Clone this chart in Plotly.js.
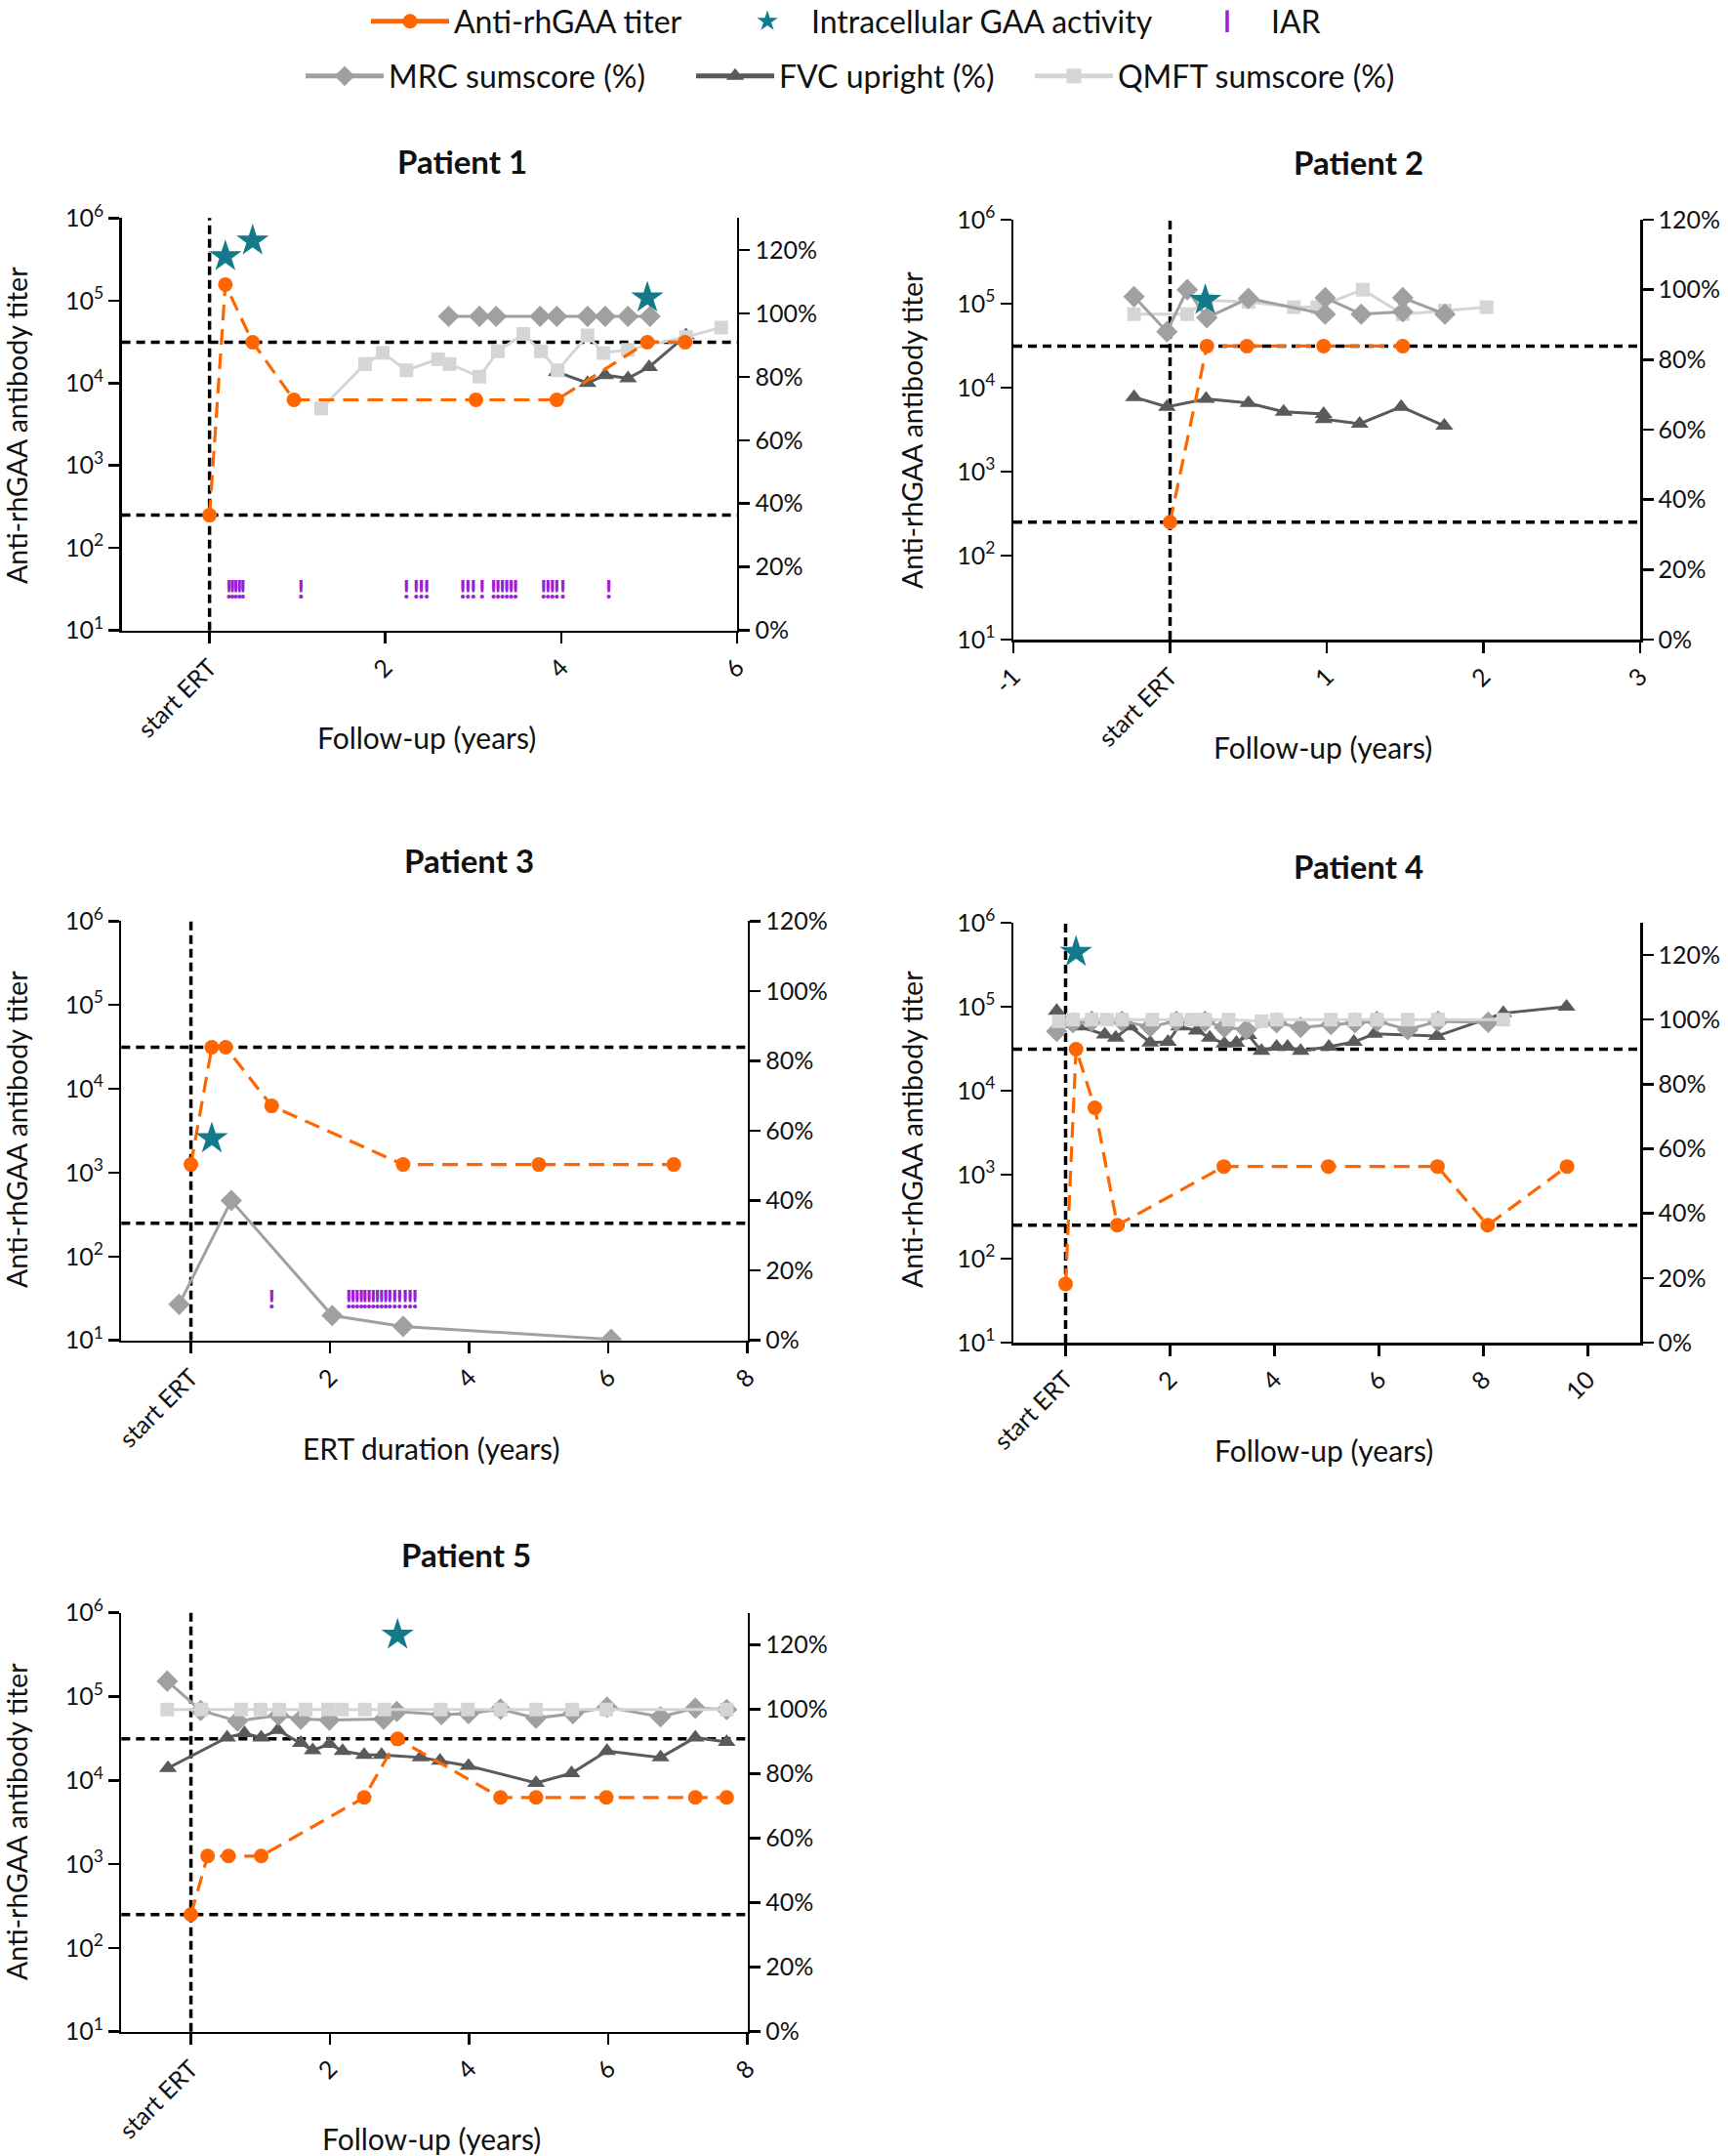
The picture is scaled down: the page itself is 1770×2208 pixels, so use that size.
<!DOCTYPE html>
<html><head><meta charset="utf-8">
<script src="https://cdn.plot.ly/plotly-3.0.1.min.js"></script>
<style>html,body{margin:0;padding:0;background:#fff}#chart{width:1770px;height:2208px}</style>
</head><body><div id="chart"></div>
<script>
// ================= DATA =================
const cutoffs = [250, 31250];
const ertStart = 0;
const logTickVals = [10, 100, 1000, 10000, 100000, 1000000];
const logTickText = ['10<sup>1</sup>', '10<sup>2</sup>', '10<sup>3</sup>', '10<sup>4</sup>', '10<sup>5</sup>', '10<sup>6</sup>'];
const pctTickVals = [0, 20, 40, 60, 80, 100, 120];
const pctTickText = ['0%', '20%', '40%', '60%', '80%', '100%', '120%'];

const patientTitles = ['Patient 1', 'Patient 2', 'Patient 3', 'Patient 4', 'Patient 5'];
const xAxisTitles = ['Follow-up (years)', 'Follow-up (years)', 'ERT duration (years)', 'Follow-up (years)', 'Follow-up (years)'];
const yAxisTitle = 'Anti-rhGAA antibody titer';
const legendNames = ['Anti-rhGAA titer', 'Intracellular GAA activity', 'IAR', 'MRC sumscore (%)', 'FVC upright (%)', 'QMFT sumscore (%)'];

// x tick labels
const p1XTicks = [0, 2, 4, 6];        const p1XLabels = ['start ERT', '2', '4', '6'];
const p2XTicks = [-1, 0, 1, 2, 3];    const p2XLabels = ['-1', 'start ERT', '1', '2', '3'];
const p3XTicks = [0, 2, 4, 6, 8];     const p3XLabels = ['start ERT', '2', '4', '6', '8'];
const p4XTicks = [0, 2, 4, 6, 8, 10]; const p4XLabels = ['start ERT', '2', '4', '6', '8', '10'];
const p5XTicks = [0, 2, 4, 6, 8];     const p5XLabels = ['start ERT', '2', '4', '6', '8'];

// Patient 1
const p1TiterX = [0, 0.18, 0.49, 0.96, 3.03, 3.95, 4.98, 5.41];
const p1TiterY = [250, 156250, 31250, 6250, 6250, 6250, 31250, 31250];
const p1GaaX = [0.18, 0.49, 4.98];
const p1GaaY = [342000, 530000, 108000];
const p1MrcX = [2.72, 3.07, 3.26, 3.76, 3.95, 4.30, 4.50, 4.76, 5.01];
const p1MrcY = [99, 99, 99, 99, 99, 99, 99, 99, 99];
const p1FvcX = [3.95, 4.30, 4.50, 4.76, 5.00, 5.42];
const p1FvcY = [81.5, 78, 80.5, 79.5, 83, 93];
const p1QmftX = [1.27, 1.77, 1.97, 2.24, 2.60, 2.73, 3.07, 3.28, 3.57, 3.77, 3.96, 4.30, 4.48, 4.76, 5.42, 5.82];
const p1QmftY = [70, 84, 87.5, 82, 85.5, 84, 80, 88, 93.5, 88, 82, 93, 87.5, 88.5, 92.5, 95.5];
const p1IarX = [0.22, 0.26, 0.30, 0.34, 0.38, 1.04, 2.24, 2.35, 2.41, 2.47, 2.88, 2.94, 3.00, 3.10, 3.23, 3.28, 3.33, 3.38, 3.43, 3.48, 3.80, 3.85, 3.90, 3.95, 4.02, 4.54];
const p1IarLevel = 12;

// Patient 2
const p2TiterX = [0, 0.235, 0.49, 0.98, 1.485];
const p2TiterY = [250, 31250, 31250, 31250, 31250];
const p2GaaX = [0.225];
const p2GaaY = [110000];
const p2MrcX = [-0.23, -0.02, 0.11, 0.235, 0.5, 0.99, 0.99, 1.22, 1.485, 1.485, 1.754];
const p2MrcY = [98, 88, 100, 92, 97.5, 93, 97.7, 93, 93.7, 97.7, 93];
const p2FvcX = [-0.23, -0.02, 0.23, 0.5, 0.725, 0.98, 0.98, 1.21, 1.475, 1.75];
const p2FvcY = [69.3, 66.5, 68.8, 67.6, 65.1, 64.5, 63, 61.7, 66.5, 61.1];
const p2QmftX = [-0.23, 0.11, 0.235, 0.5, 0.79, 0.94, 1.23, 1.485, 1.754, 2.02];
const p2QmftY = [93, 93, 97, 96.5, 95, 95, 100, 93, 94, 95];

// Patient 3
const p3TiterX = [0, 0.30, 0.50, 1.16, 3.05, 5.0, 6.94];
const p3TiterY = [1250, 31250, 31250, 6250, 1250, 1250, 1250];
const p3GaaX = [0.30];
const p3GaaY = [2550];
const p3MrcX = [-0.17, 0.58, 2.03, 3.05, 6.04];
const p3MrcY = [10.3, 40, 7.1, 4.0, 0.3];
const p3IarX = [1.16, 2.27, 2.33, 2.39, 2.45, 2.50, 2.56, 2.62, 2.68, 2.74, 2.80, 2.86, 2.93, 3.00, 3.08, 3.15, 3.22];
const p3IarLevel = 11;

// Patient 4
const p4TiterX = [0, 0.2, 0.56, 0.99, 3.03, 5.03, 7.12, 8.08, 9.6];
const p4TiterY = [50, 31250, 6250, 250, 1250, 1250, 1250, 250, 1250];
const p4GaaX = [0.2];
const p4GaaY = [447000];
const p4MrcX = [-0.17, 0.14, 0.5, 1.08, 1.62, 2.12, 2.67, 3.04, 3.46, 4.04, 4.50, 5.08, 5.54, 5.96, 6.55, 7.13, 8.09];
const p4MrcY = [96.4, 99, 99.5, 99.5, 97.8, 99.5, 99.5, 97.6, 96.9, 99, 97.6, 98.5, 99, 99.5, 96.9, 99.5, 99.2];
const p4FvcX = [-0.17, 0.25, 0.75, 0.96, 1.23, 1.62, 1.96, 2.17, 2.51, 2.76, 3.04, 3.27, 3.50, 3.75, 4.04, 4.25, 4.50, 5.04, 5.52, 5.91, 7.11, 8.38, 9.59];
const p4FvcY = [102.7, 97.9, 95.4, 94.4, 97.9, 92.9, 93.1, 97.9, 96.6, 94.4, 92.6, 92.8, 95.2, 90.3, 91.6, 91.6, 90.3, 91.6, 93.1, 95.6, 94.9, 102, 104];
const p4QmftX = [-0.13, 0.14, 0.50, 0.79, 1.08, 1.66, 2.12, 2.41, 2.67, 3.12, 3.75, 4.04, 5.08, 5.54, 5.96, 6.55, 7.13, 8.38];
const p4QmftY = [99.5, 100, 100, 100, 100, 100, 100, 100, 100, 100, 99.5, 100, 100, 100, 100, 100, 100, 100];

// Patient 5
const p5TiterX = [0, 0.24, 0.54, 1.01, 2.49, 2.97, 4.45, 4.96, 5.97, 7.25, 7.70];
const p5TiterY = [250, 1250, 1250, 1250, 6250, 31250, 6250, 6250, 6250, 6250, 6250];
const p5GaaX = [2.97];
const p5GaaY = [545000];
const p5MrcX = [-0.34, 0.14, 0.67, 1.26, 1.58, 1.99, 2.77, 2.96, 3.60, 3.99, 4.45, 4.96, 5.49, 5.98, 6.75, 7.25, 7.70];
const p5MrcY = [108.8, 99.7, 96.4, 98.2, 97.0, 96.7, 97.0, 99.4, 98.4, 98.7, 100.1, 97.3, 98.7, 100.7, 97.7, 100.4, 100];
const p5FvcX = [-0.33, 0.52, 0.77, 1.01, 1.25, 1.58, 1.75, 1.99, 2.18, 2.49, 2.74, 3.30, 3.58, 3.99, 4.96, 5.47, 5.98, 6.75, 7.25, 7.70];
const p5FvcY = [81.8, 91.3, 92.6, 91.3, 93.6, 89.6, 87.3, 89.3, 87.1, 85.9, 85.9, 85.1, 84.1, 82.5, 77.2, 80.2, 87.1, 85.1, 91.3, 89.9];
const p5QmftX = [-0.34, 0.15, 0.72, 1.0, 1.27, 1.65, 1.97, 2.17, 2.5, 2.78, 3.59, 3.98, 4.45, 4.96, 5.48, 5.97, 7.70];
const p5QmftY = [100, 100, 100, 100, 100, 100, 100, 100, 100, 100, 100, 100, 100, 100, 100, 100, 100];

// ================= STYLE / LAYOUT =================
const W = 1770, H = 2208;
const FONT = 'Lato, "Open Sans", "DejaVu Sans", sans-serif';
const TXT = '#111111';
const COL = {titer: '#ff6600', gaa: '#137a8c', iar: '#9a1ed6', mrc: '#a0a0a0', fvc: '#5a5a5a', qmft: '#d5d5d5'};

const panels = [
  {titerX: p1TiterX, titerY: p1TiterY, gaaX: p1GaaX, gaaY: p1GaaY, mrcX: p1MrcX, mrcY: p1MrcY, fvcX: p1FvcX, fvcY: p1FvcY, qmftX: p1QmftX, qmftY: p1QmftY, iarX: p1IarX, iarLevel: p1IarLevel, xt: p1XTicks, xl: p1XLabels,
   g: {x0: 124.6, x1: 754.9, y0: 223.3, y1: 645.7, xr: [-1, 6], pr: [0, 130], title: [473, 165], xtitle: [437, 755], ytitle: [17, 436]}},
  {titerX: p2TiterX, titerY: p2TiterY, gaaX: p2GaaX, gaaY: p2GaaY, mrcX: p2MrcX, mrcY: p2MrcY, fvcX: p2FvcX, fvcY: p2FvcY, qmftX: p2QmftX, qmftY: p2QmftY, xt: p2XTicks, xl: p2XLabels, mrcOnTop: true,
   g: {x0: 1038, x1: 1680, y0: 225, y1: 655, xr: [-1, 3], pr: [0, 120], title: [1391, 166], xtitle: [1355, 765], ytitle: [934, 441]}},
  {titerX: p3TiterX, titerY: p3TiterY, gaaX: p3GaaX, gaaY: p3GaaY, mrcX: p3MrcX, mrcY: p3MrcY, iarX: p3IarX, iarLevel: p3IarLevel, xt: p3XTicks, xl: p3XLabels,
   g: {x0: 124.3, x1: 765.7, y0: 943.3, y1: 1372.7, xr: [-1, 8], pr: [0, 120], title: [480, 881], xtitle: [441, 1483], ytitle: [17, 1157]}},
  {titerX: p4TiterX, titerY: p4TiterY, gaaX: p4GaaX, gaaY: p4GaaY, mrcX: p4MrcX, mrcY: p4MrcY, fvcX: p4FvcX, fvcY: p4FvcY, qmftX: p4QmftX, qmftY: p4QmftY, xt: p4XTicks, xl: p4XLabels,
   g: {x0: 1038, x1: 1680, y0: 945, y1: 1375, xr: [-1, 11], pr: [0, 130], title: [1391, 887], xtitle: [1356, 1485], ytitle: [934, 1157]}},
  {titerX: p5TiterX, titerY: p5TiterY, gaaX: p5GaaX, gaaY: p5GaaY, mrcX: p5MrcX, mrcY: p5MrcY, fvcX: p5FvcX, fvcY: p5FvcY, qmftX: p5QmftX, qmftY: p5QmftY, xt: p5XTicks, xl: p5XLabels,
   g: {x0: 124.3, x1: 765.7, y0: 1651.7, y1: 2080.7, xr: [-1, 8], pr: [0, 130], title: [477, 1592], xtitle: [442, 2190], ytitle: [17, 1866]}}
];

const px = v => v / W;
const py = v => 1 - v / H;

const traces = [];
const layout = {
  width: W, height: H,
  margin: {l: 0, r: 0, t: 0, b: 0, pad: 0, autoexpand: false},
  paper_bgcolor: '#fff', plot_bgcolor: 'rgba(0,0,0,0)',
  font: {family: FONT, color: TXT, size: 25},
  showlegend: true,
  shapes: [], annotations: []
};

const axisCommon = {
  showline: true, linecolor: '#000', linewidth: 2.5, mirror: false,
  ticks: 'outside', ticklen: 11, tickwidth: 2.5, tickcolor: '#000',
  showgrid: false, zeroline: false, fixedrange: true, automargin: false,
  tickfont: {family: FONT, size: 25, color: TXT}
};

panels.forEach((p, i) => {
  const k = i + 1;
  const xa = 'x' + (k > 1 ? k : '');
  const pn = 2 * k - 1, ln = 2 * k;
  const pa = 'y' + (pn > 1 ? pn : '');
  const la = 'y' + ln;
  const g = p.g;

  layout['xaxis' + (k > 1 ? k : '')] = Object.assign({}, axisCommon, {
    domain: [px(g.x0), px(g.x1)], range: g.xr, anchor: pa,
    tickmode: 'array', tickvals: p.xt, ticktext: p.xl, tickangle: -45
  });
  layout['yaxis' + (pn > 1 ? pn : '')] = Object.assign({}, axisCommon, {
    domain: [py(g.y1), py(g.y0)], range: g.pr, anchor: xa, side: 'right',
    tickmode: 'array', tickvals: pctTickVals.filter(v => v <= g.pr[1]), ticktext: pctTickText.filter((t, j) => pctTickVals[j] <= g.pr[1])
  });
  layout['yaxis' + ln] = Object.assign({}, axisCommon, {
    overlaying: pa, anchor: xa, side: 'left', type: 'log', range: [1, 6],
    tickmode: 'array', tickvals: logTickVals, ticktext: logTickText
  });

  // cutoff lines and start-ERT line
  cutoffs.forEach(c => layout.shapes.push({
    type: 'line', xref: xa + ' domain', yref: la, x0: 0, x1: 1, y0: c, y1: c,
    line: {color: '#000', width: 3.5, dash: '9px,6px'}, layer: 'below'
  }));
  layout.shapes.push({
    type: 'line', xref: xa, yref: la + ' domain', x0: ertStart, x1: ertStart, y0: 0, y1: 1,
    line: {color: '#000', width: 3.5, dash: '9px,5px'}, layer: 'below'
  });

  const pctTraces = [];
  if (p.fvcX) pctTraces.push({x: p.fvcX, y: p.fvcY, mode: 'lines+markers', line: {color: COL.fvc, width: 3}, marker: {symbol: 'triangle-up', size: 16, color: COL.fvc}, name: 'fvc'});
  if (p.qmftX) pctTraces.push({x: p.qmftX, y: p.qmftY, mode: 'lines+markers', line: {color: COL.qmft, width: 3}, marker: {symbol: 'square', size: 14, color: COL.qmft}, name: 'qmft'});
  if (p.mrcX) {
    const mt = {x: p.mrcX, y: p.mrcY, mode: 'lines+markers', line: {color: COL.mrc, width: 3}, marker: {symbol: 'diamond', size: 17, color: COL.mrc}, name: 'mrc'};
    if (p.mrcOnTop) pctTraces.push(mt); else pctTraces.splice(1, 0, mt);
  }
  if (p.iarX) pctTraces.push({x: p.iarX, y: p.iarX.map(() => p.iarLevel), mode: 'text', text: p.iarX.map(() => '!'),
    textfont: {family: FONT, size: 27, weight: 700, color: COL.iar}, textposition: 'middle center', name: 'iar'});
  pctTraces.forEach(t => { t.xaxis = xa; t.yaxis = pa; t.showlegend = false; t.hoverinfo = 'skip'; traces.push(t); });

  traces.push({x: p.titerX, y: p.titerY, xaxis: xa, yaxis: la, mode: 'lines+markers',
    line: {color: COL.titer, width: 3.2, dash: '16px,9px'}, marker: {symbol: 'circle', size: 15, color: COL.titer},
    showlegend: false, hoverinfo: 'skip'});
  traces.push({x: p.gaaX, y: p.gaaY, xaxis: xa, yaxis: la, mode: 'markers',
    marker: {symbol: 'star', size: 25, color: COL.gaa}, showlegend: false, hoverinfo: 'skip'});

  // titles
  layout.annotations.push({xref: 'paper', yref: 'paper', x: px(g.title[0]), y: py(g.title[1]), text: patientTitles[i],
    showarrow: false, xanchor: 'center', yanchor: 'middle', font: {family: FONT, size: 33, weight: 700, color: TXT}});
  layout.annotations.push({xref: 'paper', yref: 'paper', x: px(g.xtitle[0]), y: py(g.xtitle[1]), text: xAxisTitles[i],
    showarrow: false, xanchor: 'center', yanchor: 'middle', font: {family: FONT, size: 30, color: TXT}});
  layout.annotations.push({xref: 'paper', yref: 'paper', x: px(g.ytitle[0]), y: py(g.ytitle[1]), text: yAxisTitle,
    showarrow: false, textangle: -90, xanchor: 'center', yanchor: 'middle', font: {family: FONT, size: 28.5, color: TXT}});
});

// ===== legend: one legend box per entry (dummy, data-free traces) =====
const legendPos = [[375, 22], [741, 22], [1212, 22], [308, 78], [708, 78], [1055, 78]];
const legendStyles = [
  {mode: 'lines+markers', line: {color: COL.titer, width: 5}, marker: {symbol: 'circle', size: 15, color: COL.titer}},
  {mode: 'markers', marker: {symbol: 'star', size: 24, color: COL.gaa}},
  {mode: 'markers', marker: {symbol: 'line-ns-open', size: 22, color: COL.iar, line: {color: COL.iar, width: 3.5}}},
  {mode: 'lines+markers', line: {color: COL.mrc, width: 5}, marker: {symbol: 'diamond', size: 18, color: COL.mrc}},
  {mode: 'lines+markers', line: {color: COL.fvc, width: 5}, marker: {symbol: 'triangle-up', size: 16, color: COL.fvc}},
  {mode: 'lines+markers', line: {color: COL.qmft, width: 5}, marker: {symbol: 'square', size: 15, color: COL.qmft}}
];
legendNames.forEach((nm, j) => {
  const lg = 'legend' + (j > 0 ? j + 1 : '');
  traces.push(Object.assign({x: [null], y: [null], xaxis: 'x', yaxis: 'y', name: nm, legend: lg, showlegend: true, hoverinfo: 'skip'}, legendStyles[j]));
  layout[lg] = {x: px(legendPos[j][0]), y: py(legendPos[j][1]), xanchor: 'left', yanchor: 'middle', orientation: 'h',
    itemwidth: 80, bgcolor: 'rgba(0,0,0,0)', borderwidth: 0, font: {family: FONT, size: 32, color: TXT}};
});

Plotly.newPlot('chart', traces, layout, {staticPlot: true, displayModeBar: false});
</script>
</body></html>
